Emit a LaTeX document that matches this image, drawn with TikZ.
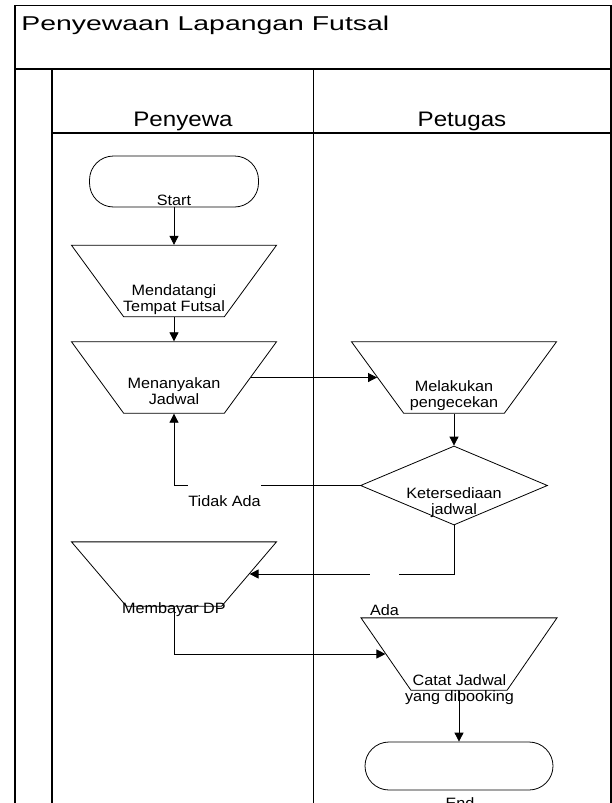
\documentclass[tikz,border=0pt]{standalone}
\usepackage{fontspec}
\setmainfont[FakeStretch=1.08]{Liberation Sans}
\newfontfamily\titlefont[FakeStretch=1.42]{Liberation Sans}
\newfontfamily\lanefont[FakeStretch=1.15]{Liberation Sans}
\usetikzlibrary{shapes.geometric,arrows.meta}

\begin{document}
\begin{tikzpicture}[x=1pt,y=-1pt,font=\fontsize{15}{16}\selectfont,line width=0.8pt]
\tikzstyle{manual op}=[trapezium,draw,shape border rotate=180,trapezium stretches=true,trapezium angle=62.6,minimum width=205pt,minimum height=71.5pt,inner sep=1pt]
\tikzstyle{terminal}=[draw,rounded corners=24pt,minimum width=169pt,minimum height=51pt,inner sep=0pt]
\tikzstyle{decision}=[diamond,draw,aspect=2.37,minimum width=187pt,minimum height=79pt,inner sep=1pt]
\tikzstyle{flow}=[draw,-{Triangle[length=9pt,width=9pt]}]
\tikzstyle{txt}=[align=center,inner sep=0pt]
\tikzstyle{gap label}=[fill=white,inner xsep=0pt,inner ysep=0pt,text depth=0pt,anchor=north west]
\useasboundingbox (0,0) rectangle (612,803);
\draw[line width=1.1pt] (15,803) -- (15,5.7) -- (611,5.7) -- (611,803);
\draw[line width=1.1pt] (15,69) -- (611,69);
\draw[line width=1.1pt] (52,69) -- (52,803);
\draw[line width=1.1pt] (313.5,69) -- (313.5,803);
\draw[line width=1.1pt] (52,133) -- (611,133);
\node[anchor=base west,inner sep=0pt,font=\titlefont\fontsize{20}{24}\selectfont] (judul) at (21,30) {Penyewaan Lapangan Futsal};
\node[anchor=base,inner sep=0pt,font=\lanefont\fontsize{21}{24}\selectfont] (penyewa) at (183,126) {Penyewa};
\node[anchor=base,inner sep=0pt,font=\lanefont\fontsize{21}{24}\selectfont] (petugas) at (462,126) {Petugas};
\node[terminal] (start) at (174,181.5) {};
\node[txt] (startlbl) at (174,200) {Start};
\node[manual op] (datang) at (174,281) {};
\node[txt] (datanglbl) at (174,300) {Mendatangi\\Tempat Futsal};
\node[manual op] (tanya) at (174,377.5) {};
\node[txt] (tanyalbl) at (174,391.5) {Menanyakan\\Jadwal};
\node[manual op] (cek) at (454,377.5) {};
\node[txt] (ceklbl) at (454,395.5) {Melakukan\\pengecekan};
\node[decision] (sedia) at (454,485.5) {};
\node[txt] (sedialbl) at (454,502.5) {Ketersediaan\\jadwal};
\node[manual op,minimum height=64.3pt,trapezium angle=60.1] (bayar) at (174,574) {};
\node[txt] (bayarlbl) at (174,610) {Membayar DP};
\node[manual op,minimum width=196pt,minimum height=72.3pt] (catat) at (459,654) {};
\node[txt] (catatlbl) at (459.5,690) {Catat Jadwal\\yang dibooking};
\node[terminal,minimum width=188pt,minimum height=48pt] (selesai) at (459,766) {};
\node[txt,anchor=base] (selesailbl) at (460,808) {End};
\draw[flow] (start) -- (datang);
\draw[flow] (datang) -- (tanya);
\draw[flow] (tanya) -- (cek);
\draw[flow] (cek) -- (sedia);
\draw[flow] (sedia) -| (tanya);
\draw[flow] (sedia) |- (bayar);
\draw[flow] (bayar) |- (catat);
\draw[flow] (catat) -- (selesai);
\node[gap label,text height=22pt] (tidakada) at (188,484) {Tidak Ada};
\node[gap label,text height=44pt] (ada) at (369.7,571) {Ada};
\end{tikzpicture}
\end{document}
